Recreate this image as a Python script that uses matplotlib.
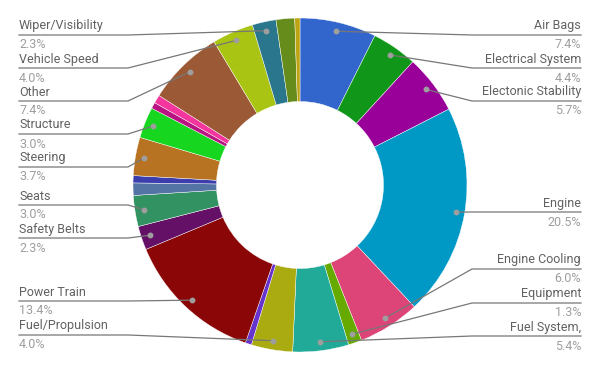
import numpy as np
import matplotlib.pyplot as plt

plt.rcParams['font.family'] = ['Roboto', 'DejaVu Sans']

# slice data, clockwise from 12 o'clock
categories = ['Air Bags', 'Electrical System', 'Electonic Stability', 'Engine',
              'Engine Cooling', 'Equipment', 'Fuel System,', 'Fuel/Propulsion',
              'Latches/Locks/Linkages', 'Power Train', 'Safety Belts', 'Seats',
              'Service Brakes', 'Service Brakes, Hydraulic', 'Steering', 'Structure',
              'Suspension', 'Tires', 'Other', 'Vehicle Speed', 'Wiper/Visibility',
              'Wheels', 'Unknown']
values = [7.4, 4.4, 5.7, 20.5, 6.0, 1.3, 5.4, 4.0, 0.6, 13.4, 2.3, 3.0,
          1.2, 0.7, 3.7, 3.0, 0.6, 0.8, 7.4, 4.0, 2.3, 1.8, 0.5]
colors = ['#3366cc', '#109618', '#990099', '#0099c6', '#dd4477', '#66aa00',
          '#22aa99', '#aaaa11', '#6633cc', '#8b0707', '#651067', '#329262',
          '#5574a6', '#3b3eac', '#b77322', '#16d620', '#b91383', '#f4359e',
          '#9c5935', '#a9c413', '#2a778d', '#668d1c', '#bea413']

# label layout: side and y (pixels from top) of the underline
label_pos = {
    'Air Bags': ('right', 35), 'Electrical System': ('right', 68),
    'Electonic Stability': ('right', 101), 'Engine': ('right', 212),
    'Engine Cooling': ('right', 269), 'Equipment': ('right', 303),
    'Fuel System,': ('right', 336),
    'Wiper/Visibility': ('left', 35), 'Vehicle Speed': ('left', 68),
    'Other': ('left', 101), 'Structure': ('left', 134), 'Steering': ('left', 167),
    'Seats': ('left', 205), 'Safety Belts': ('left', 238),
    'Power Train': ('left', 301), 'Fuel/Propulsion': ('left', 335),
}

W, H = 600, 371
cx, cy, R = 300, 185, 167


def py(y):
    # pixel row (from top) -> data y
    return H - y


fig = plt.figure(figsize=(6, 3.71), dpi=100)
ax = fig.add_axes([0, 0, 1, 1])

wedges, _ = ax.pie(values, colors=colors, startangle=90, counterclock=False,
                   radius=R, center=(cx, py(cy)),
                   wedgeprops=dict(width=R * 0.5, edgecolor='white', linewidth=0.3))

total = sum(values)
line_col = '#777777'
for w, cat, v in zip(wedges, categories, values):
    if cat not in label_pos:
        continue
    side, ly = label_pos[cat]
    ang = np.deg2rad((w.theta1 + w.theta2) / 2)
    dx = cx + 158 * np.cos(ang)
    dy = py(cy) + 158 * np.sin(ang)
    ax.plot(dx, dy, 'o', ms=3.2, color='#9e9e9e', zorder=5)
    if side == 'right':
        ex, tx, ha = 472, 581, 'right'
    else:
        ex, tx, ha = 128, 19, 'left'
    ax.plot([dx, ex, tx], [dy, py(ly), py(ly)], color=line_col, lw=0.9, zorder=4)
    ax.text(tx, py(ly - 9), cat, ha=ha, va='center', fontsize=9, color='#616161')
    ax.text(tx, py(ly + 10), f'{v / total * 100:.1f}%', ha=ha, va='center',
            fontsize=9, color='#9e9e9e')

ax.set_xlim(0, W)
ax.set_ylim(0, H)
ax.set_aspect('auto')
ax.axis('off')

plt.savefig('out.png', dpi=100)
